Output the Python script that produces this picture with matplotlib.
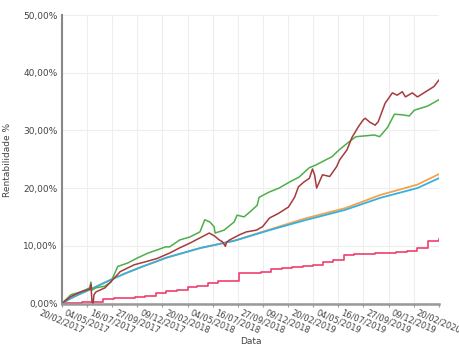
import pandas as pd
import matplotlib
matplotlib.use("Agg")
import matplotlib.pyplot as plt
from matplotlib.ticker import FuncFormatter

# --- data (rentabilidade acumulada, %) ---
red_dates = ["2017-02-20", "2017-03-18", "2017-04-16", "2017-05-12", "2017-05-15",
             "2017-05-18", "2017-05-21", "2017-05-24", "2017-05-30", "2017-06-25",
             "2017-07-16", "2017-08-08", "2017-09-18", "2017-10-26", "2017-11-24",
             "2017-12-17", "2017-12-29", "2018-01-27", "2018-02-25", "2018-03-26",
             "2018-04-24", "2018-05-09", "2018-05-23", "2018-06-01", "2018-06-10",
             "2018-06-13", "2018-06-22", "2018-07-21", "2018-08-10", "2018-09-08",
             "2018-09-26", "2018-10-16", "2018-11-11", "2018-12-10", "2018-12-28",
             "2019-01-08", "2019-01-23", "2019-02-09", "2019-02-18", "2019-02-24",
             "2019-03-02", "2019-03-19", "2019-04-09", "2019-04-29", "2019-05-08",
             "2019-05-29", "2019-06-13", "2019-07-01", "2019-07-15", "2019-07-21",
             "2019-08-04", "2019-08-19", "2019-08-28", "2019-09-17", "2019-10-08",
             "2019-10-22", "2019-11-06", "2019-11-15", "2019-12-05", "2019-12-20",
             "2020-02-06", "2020-02-20"]
red_values = [0.0, 1.2, 2.0, 2.5, 3.3,
              0.5, -0.3, 1.5, 2.0, 2.7,
              4.0, 5.5, 6.7, 7.3, 7.8,
              8.4, 8.7, 9.6, 10.4, 11.3,
              12.2, 11.7, 11.0, 10.7, 9.9,
              10.6, 11.0, 11.9, 12.4, 12.7,
              13.3, 14.8, 15.6, 16.7, 18.4,
              20.2, 21.0, 21.7, 23.3, 22.3,
              20.0, 22.3, 22.0, 23.7, 24.9,
              26.6, 28.8, 30.6, 31.8, 32.1,
              31.4, 30.9, 31.5, 34.7, 36.5,
              36.1, 36.7, 35.8, 36.5, 35.8,
              37.6, 38.7]

green_dates = ["2017-02-20", "2017-03-18", "2017-04-16", "2017-05-12", "2017-05-15",
               "2017-05-18", "2017-05-30", "2017-06-25", "2017-07-12", "2017-07-24",
               "2017-08-01", "2017-08-30", "2017-09-28", "2017-10-27", "2017-11-25",
               "2017-12-18", "2017-12-30", "2018-01-28", "2018-02-26", "2018-03-28",
               "2018-04-11", "2018-04-26", "2018-05-08", "2018-05-11", "2018-06-06",
               "2018-07-05", "2018-07-14", "2018-08-03", "2018-08-21", "2018-09-10",
               "2018-09-16", "2018-10-15", "2018-11-13", "2018-12-12", "2019-01-10",
               "2019-02-08", "2019-02-28", "2019-03-29", "2019-04-15", "2019-05-06",
               "2019-06-04", "2019-06-24", "2019-08-17", "2019-09-01", "2019-09-24",
               "2019-10-14", "2019-11-06", "2019-11-26", "2019-12-11", "2020-01-18",
               "2020-02-20"]
green_values = [0.0, 1.5, 2.0, 2.7, 3.7,
                2.3, 2.7, 3.0, 3.7, 5.3,
                6.4, 7.0, 7.9, 8.7, 9.3,
                9.8, 9.8, 11.0, 11.5, 12.4,
                14.5, 14.1, 13.3, 12.2, 12.7,
                14.1, 15.3, 15.0, 15.9, 17.0,
                18.4, 19.3, 20.0, 21.0, 21.9,
                23.5, 24.0, 24.9, 25.4, 26.6,
                28.0, 28.9, 29.2, 28.9, 30.5,
                32.8, 32.7, 32.5, 33.5, 34.2,
                35.3]

curve_dates = ["2017-02-20", "2017-03-15", "2017-04-08", "2017-05-16", "2017-06-17",
               "2017-07-19", "2017-08-23", "2017-10-08", "2017-11-18", "2017-12-19",
               "2018-01-29", "2018-03-29", "2018-07-08", "2018-10-16", "2019-01-26",
               "2019-05-23", "2019-09-03", "2019-12-20", "2020-02-20"]
blue_values = [0.0, 0.8, 1.5, 2.5, 3.4,
               4.3, 5.2, 6.3, 7.2, 7.9,
               8.6, 9.6, 10.9, 12.7, 14.4,
               16.2, 18.3, 20.0, 21.7]
orange_values = [0.0, 0.8, 1.5, 2.5, 3.4,
                 4.3, 5.2, 6.3, 7.2, 7.9,
                 8.6, 9.6, 10.9, 12.8, 14.7,
                 16.5, 18.8, 20.6, 22.4]

pink_dates = ["2017-02-20", "2017-03-20", "2017-04-20", "2017-05-20", "2017-06-20",
              "2017-07-20", "2017-08-20", "2017-09-20", "2017-10-20", "2017-11-20",
              "2017-12-20", "2018-01-20", "2018-02-20", "2018-03-20", "2018-04-20",
              "2018-05-20", "2018-06-20", "2018-07-20", "2018-08-20", "2018-09-20",
              "2018-10-20", "2018-11-20", "2018-12-20", "2019-01-20", "2019-02-20",
              "2019-03-20", "2019-04-20", "2019-05-20", "2019-06-20", "2019-07-20",
              "2019-08-20", "2019-09-20", "2019-10-20", "2019-11-20", "2019-12-20",
              "2020-01-20", "2020-02-20"]
pink_values = [0.0, 0.1, 0.2, 0.3, 0.8,
               1.0, 1.0, 1.1, 1.3, 1.8,
               2.2, 2.4, 2.8, 3.0, 3.5,
               3.8, 3.9, 5.2, 5.3, 5.5,
               6.0, 6.1, 6.3, 6.4, 6.7,
               7.2, 7.6, 8.4, 8.5, 8.6,
               8.7, 8.8, 8.9, 9.0, 9.6,
               10.8, 11.1]

tick_dates = ["20/02/2017", "04/05/2017", "16/07/2017", "27/09/2017", "09/12/2017",
              "20/02/2018", "04/05/2018", "16/07/2018", "27/09/2018", "09/12/2018",
              "20/02/2019", "04/05/2019", "16/07/2019", "27/09/2019", "09/12/2019",
              "20/02/2020"]
y_ticks = [0, 10, 20, 30, 40, 50]

fig = plt.figure(figsize=(4.59, 3.49), dpi=100)
ax = fig.add_axes([0.135, 0.129, 0.821, 0.828])

ax.plot(pd.to_datetime(pink_dates), pink_values, color="#ee3f6e", lw=1.2,
        drawstyle="steps-post")
ax.plot(pd.to_datetime(curve_dates), orange_values, color="#f5a24a", lw=1.3)
ax.plot(pd.to_datetime(curve_dates), blue_values, color="#35b0e2", lw=1.3)
ax.plot(pd.to_datetime(green_dates), green_values, color="#4fad4a", lw=1.1)
ax.plot(pd.to_datetime(red_dates), red_values, color="#a63a3c", lw=1.1)

ticks = pd.to_datetime(tick_dates, format="%d/%m/%Y")
ax.set_xticks(ticks)
ax.set_xticklabels(tick_dates, rotation=-23, ha="center", va="top",
                   fontsize=6, color="#444444")
ax.set_xlim(ticks[0], ticks[-1])
ax.set_ylim(-0.1, 50)
ax.set_yticks(y_ticks)
ax.yaxis.set_major_formatter(FuncFormatter(lambda v, p: f"{v:.2f}%".replace(".", ",")))
ax.tick_params(axis="y", length=0, labelsize=6.5, labelcolor="#444444", pad=3)
ax.tick_params(axis="x", length=2, color="#999999", pad=1)

ax.grid(True, color="#eeeeee", lw=0.8)
ax.set_axisbelow(True)
for s in ["top", "right"]:
    ax.spines[s].set_visible(False)
ax.spines["left"].set_color("#888888")
ax.spines["left"].set_linewidth(1.5)
ax.spines["bottom"].set_color("#999999")
ax.spines["bottom"].set_linewidth(1.8)

ax.set_xlabel("Data", fontsize=6.5, color="#444444", labelpad=1)
ax.set_ylabel("Rentabilidade %", fontsize=6.5, color="#444444", labelpad=8)

fig.savefig("out.png", dpi=100)
